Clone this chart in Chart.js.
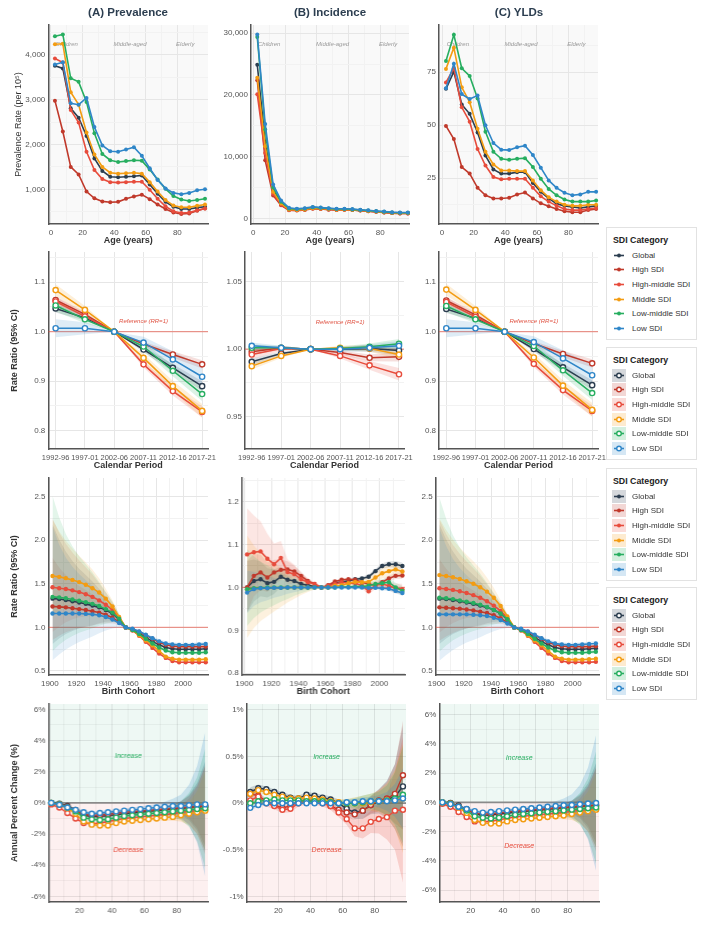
<!DOCTYPE html>
<html>
<head>
<meta charset="utf-8">
<title>SDI age-period-cohort panels</title>
<script src="https://cdn.jsdelivr.net/npm/chart.js@4.4.1/dist/chart.umd.min.js"></script>
<style>
  body { margin: 0; background: #fff; font-family: "Liberation Sans", Arial, sans-serif; }
  #page { position: relative; width: 708px; height: 934px; overflow: hidden; }
  #page canvas { position: absolute; }
  .panel-title { position: absolute; top: 6px; width: 200px; margin-left: -100px; text-align: center;
                 font-size: 11.5px; font-weight: bold; color: #2c3e50; }
  .legend { position: absolute; left: 606px; width: 91px; height: 113px; border: 1px solid #e2e2e2;
            background: #fff; box-sizing: border-box; }
  .legend .lt { font-weight: bold; font-size: 8.8px; color: #222; margin: 7px 0 3px 6px; line-height: 10px; }
  .legend .it { height: 14.6px; font-size: 8px; display: flex; align-items: center; }
  .legend .it span { color: #333; -webkit-font-smoothing: antialiased; }
  .legend svg { margin: 0 4px 0 3px; flex: none; }
</style>
</head>
<body>
<div id="page"></div>
<script>
// ---- categories ----
const sdiNames = ['Global', 'High SDI', 'High-middle SDI', 'Middle SDI', 'Low-middle SDI', 'Low SDI'];
const sdiColors = ['#2c3e50', '#c0392b', '#e74c3c', '#f39c12', '#27ae60', '#2f86c8'];
const ageGroups = [2.5, 7.5, 12.5, 17.5, 22.5, 27.5, 32.5, 37.5, 42.5, 47.5, 52.5, 57.5, 62.5, 67.5, 72.5, 77.5, 82.5, 87.5, 92.5, 97.5];
const periodLabels = ['1992-96', '1997-01', '2002-06', '2007-11', '2012-16', '2017-21'];
const periodIndex = [0, 1, 2, 3, 4, 5];
const cohortYears = [1902, 1907, 1912, 1917, 1922, 1927, 1932, 1937, 1942, 1947, 1952, 1957,
                     1962, 1967, 1972, 1977, 1982, 1987, 1992, 1997, 2002, 2007, 2012, 2017];

// ---- row 1: age-specific rates (rows follow sdiNames) ----
const prevalenceRate = [
  [3760, 3700, 2810, 2600, 2190, 1690, 1410, 1280, 1270, 1280, 1290, 1310, 1110, 900, 720, 610, 560, 560, 590, 610],
  [2980, 2290, 1500, 1330, 950, 800, 730, 710, 720, 790, 840, 880, 780, 660, 560, 480, 450, 460, 520, 570],
  [3920, 3830, 2770, 2490, 1840, 1430, 1230, 1160, 1150, 1160, 1170, 1170, 990, 790, 620, 510, 470, 480, 530, 570],
  [4240, 4250, 3170, 2890, 2270, 1780, 1500, 1370, 1350, 1360, 1370, 1350, 1160, 950, 760, 640, 600, 600, 630, 660],
  [4420, 4460, 3480, 3400, 2950, 2250, 1790, 1650, 1610, 1630, 1650, 1640, 1440, 1220, 1010, 850, 770, 740, 760, 790],
  [3790, 3840, 2920, 2890, 3040, 2390, 1980, 1850, 1840, 1890, 1940, 1750, 1470, 1210, 1020, 920, 890, 920, 980, 1000]
];
const incidenceRate = [
  [24900, 12400, 4600, 2500, 1500, 1400, 1500, 1700, 1600, 1500, 1400, 1450, 1400, 1300, 1200, 1100, 1000, 900, 850, 850],
  [22400, 9400, 3700, 2100, 1300, 1250, 1350, 1550, 1500, 1400, 1350, 1400, 1350, 1250, 1150, 1050, 950, 850, 800, 800],
  [20100, 10600, 4000, 2200, 1350, 1300, 1400, 1600, 1550, 1450, 1350, 1400, 1350, 1250, 1150, 1050, 950, 850, 800, 800],
  [22800, 11700, 4300, 2400, 1450, 1350, 1450, 1650, 1600, 1500, 1400, 1450, 1400, 1300, 1200, 1100, 1000, 900, 850, 850],
  [29400, 14400, 5000, 2700, 1600, 1500, 1600, 1800, 1700, 1600, 1500, 1500, 1450, 1350, 1250, 1150, 1050, 950, 900, 900],
  [29800, 15300, 5500, 2900, 1700, 1550, 1650, 1850, 1750, 1650, 1550, 1550, 1500, 1400, 1300, 1200, 1100, 1000, 950, 950]
];
const yldRate = [
  [67.2, 75.3, 59.8, 55.4, 46.6, 35.7, 29.2, 27.2, 27.2, 27.9, 27.9, 22.8, 18.6, 15.5, 13, 12, 11.5, 11, 11.5, 12],
  [49.7, 43.5, 30.3, 27.2, 20.5, 17, 15.5, 15.5, 15.8, 17.4, 18.3, 15.5, 13.2, 11.8, 10.5, 9.5, 9, 9, 10, 10.5],
  [70.2, 76.9, 58.5, 51.7, 38.8, 31, 25.6, 24.5, 24.8, 24.8, 24.8, 20.5, 16.5, 14, 12, 10.5, 10, 10, 10.5, 11],
  [76.6, 86.6, 67.9, 60.9, 48.4, 37.5, 31.5, 28.7, 28.7, 28.4, 28.4, 24, 19.4, 16, 14, 12.5, 12, 12, 12.5, 12.5],
  [80.3, 92.7, 76.9, 73.3, 62.6, 46.9, 37.5, 34.2, 33.7, 34.2, 34.5, 30.3, 24.8, 20, 17, 15, 14, 14, 14, 14.5],
  [67.5, 79, 64.7, 62.4, 64, 50, 41.6, 38.5, 38.3, 39.6, 40.4, 36, 30, 24, 20.5, 18.2, 17, 17.4, 18.6, 18.6]
];

// ---- row 2: period rate ratios ----
const prevalencePeriodRR = [
  [1.047, 1.028, 1, 0.964, 0.927, 0.890],
  [1.064, 1.035, 1, 0.975, 0.954, 0.934],
  [1.061, 1.031, 1, 0.934, 0.880, 0.838],
  [1.084, 1.044, 1, 0.947, 0.890, 0.840],
  [1.053, 1.025, 1, 0.970, 0.921, 0.874],
  [1.007, 1.007, 1, 0.978, 0.944, 0.909]
];
const incidencePeriodRR = [
  [0.9906, 0.9968, 1, 1.0000, 1.0005, 0.9990],
  [0.9980, 1.0010, 1, 0.9975, 0.9936, 0.9943],
  [0.9960, 1.0005, 1, 0.9950, 0.9880, 0.9814],
  [0.9874, 0.9950, 1, 1.0010, 1.0005, 0.9960],
  [1.0010, 1.0010, 1, 1.0005, 1.0017, 1.0040],
  [1.0025, 1.0010, 1, 1.0000, 1.0010, 1.0025]
];
const yldPeriodRR = [
  [1.046, 1.027, 1, 0.965, 0.928, 0.892],
  [1.063, 1.034, 1, 0.976, 0.955, 0.936],
  [1.060, 1.030, 1, 0.935, 0.882, 0.840],
  [1.085, 1.044, 1, 0.948, 0.891, 0.842],
  [1.052, 1.025, 1, 0.971, 0.922, 0.876],
  [1.007, 1.007, 1, 0.979, 0.946, 0.912]
];
const periodCiWidth = [0.012, 0.008, 0, 0.008, 0.011, 0.014];
const periodCiWidthB = [0.0025, 0.0015, 0, 0.0015, 0.0025, 0.0035];
const periodCiScale = [0.7, 0.6, 0.8, 1, 1, 1.5];
const periodCiScaleB = [1, 1, 1.3, 1, 1, 1];

// ---- row 3: cohort rate ratios ----
const prevalenceCohortRR = [
  [1.33, 1.325, 1.315, 1.30, 1.285, 1.27, 1.25, 1.23, 1.20, 1.16, 1.09, 1, 0.975, 0.935, 0.885, 0.84, 0.80, 0.77, 0.755, 0.75, 0.75, 0.75, 0.75, 0.755],
  [1.24, 1.235, 1.23, 1.22, 1.21, 1.20, 1.185, 1.17, 1.145, 1.11, 1.06, 1, 0.98, 0.95, 0.91, 0.87, 0.83, 0.80, 0.785, 0.78, 0.78, 0.78, 0.78, 0.78],
  [1.46, 1.45, 1.44, 1.425, 1.405, 1.38, 1.35, 1.31, 1.26, 1.20, 1.11, 1, 0.965, 0.905, 0.835, 0.765, 0.70, 0.65, 0.615, 0.60, 0.60, 0.60, 0.60, 0.60],
  [1.59, 1.58, 1.565, 1.545, 1.52, 1.49, 1.45, 1.40, 1.33, 1.24, 1.12, 1, 0.97, 0.91, 0.85, 0.795, 0.73, 0.665, 0.64, 0.63, 0.63, 0.63, 0.63, 0.635],
  [1.35, 1.345, 1.335, 1.32, 1.305, 1.29, 1.27, 1.245, 1.21, 1.17, 1.10, 1, 0.97, 0.925, 0.87, 0.815, 0.77, 0.735, 0.715, 0.71, 0.71, 0.71, 0.71, 0.715],
  [1.16, 1.16, 1.16, 1.16, 1.16, 1.155, 1.15, 1.14, 1.12, 1.09, 1.05, 1, 0.985, 0.955, 0.915, 0.875, 0.84, 0.815, 0.805, 0.80, 0.80, 0.80, 0.805, 0.81]
];
const incidenceCohortRR = [
  [1.000, 1.015, 1.019, 1.010, 1.013, 1.025, 1.018, 1.015, 1.008, 1.005, 1.002, 1, 1.004, 1.010, 1.013, 1.015, 1.019, 1.021, 1.025, 1.038, 1.050, 1.054, 1.054, 1.050],
  [1.000, 1.027, 1.035, 1.023, 1.035, 1.041, 1.042, 1.037, 1.027, 1.015, 1.008, 1, 1.005, 1.014, 1.018, 1.019, 1.018, 1.012, 1.008, 1.005, 1.012, 1.021, 1.027, 1.028],
  [1.077, 1.082, 1.084, 1.067, 1.054, 1.069, 1.036, 1.031, 1.019, 1.012, 1.008, 1, 1.004, 1.008, 1.012, 1.010, 1.010, 1.004, 0.991, 1.005, 1.008, 1.004, 0.998, 0.996],
  [0.995, 0.997, 0.998, 0.998, 0.999, 0.999, 1.000, 1.000, 1.000, 1.000, 1.000, 1, 1.000, 1.004, 1.005, 1.010, 1.013, 1.012, 1.013, 1.023, 1.033, 1.038, 1.042, 1.037],
  [0.996, 0.998, 0.999, 1.000, 1.000, 1.000, 1.000, 1.000, 1.000, 1.000, 1.000, 1, 1.000, 1.000, 1.001, 1.001, 1.002, 1.002, 1.004, 1.008, 1.010, 1.012, 1.000, 0.992],
  [0.988, 0.996, 0.998, 0.998, 0.999, 0.999, 1.000, 1.000, 1.000, 1.000, 1.000, 1, 1.000, 1.000, 1.000, 1.000, 1.000, 1.000, 0.999, 0.999, 0.998, 0.997, 0.992, 0.987]
];
const yldCohortRR = [
  [1.33, 1.325, 1.315, 1.30, 1.285, 1.27, 1.25, 1.23, 1.20, 1.16, 1.09, 1, 0.975, 0.935, 0.885, 0.84, 0.80, 0.77, 0.755, 0.75, 0.75, 0.75, 0.755, 0.76],
  [1.23, 1.225, 1.22, 1.215, 1.205, 1.195, 1.18, 1.165, 1.14, 1.105, 1.055, 1, 0.98, 0.95, 0.91, 0.87, 0.83, 0.80, 0.785, 0.78, 0.78, 0.78, 0.78, 0.785],
  [1.45, 1.44, 1.43, 1.415, 1.395, 1.37, 1.34, 1.30, 1.25, 1.19, 1.105, 1, 0.965, 0.905, 0.835, 0.765, 0.70, 0.65, 0.615, 0.60, 0.60, 0.60, 0.60, 0.605],
  [1.60, 1.59, 1.575, 1.555, 1.53, 1.50, 1.46, 1.41, 1.34, 1.245, 1.125, 1, 0.97, 0.91, 0.85, 0.795, 0.73, 0.665, 0.64, 0.63, 0.63, 0.63, 0.635, 0.64],
  [1.34, 1.335, 1.325, 1.31, 1.295, 1.28, 1.26, 1.235, 1.20, 1.16, 1.095, 1, 0.97, 0.925, 0.87, 0.815, 0.77, 0.735, 0.715, 0.71, 0.71, 0.71, 0.715, 0.72],
  [1.15, 1.15, 1.15, 1.15, 1.15, 1.145, 1.14, 1.13, 1.11, 1.085, 1.045, 1, 0.985, 0.955, 0.915, 0.875, 0.84, 0.815, 0.805, 0.80, 0.80, 0.805, 0.81, 0.815]
];
const cohortCiWidth = [0.62, 0.52, 0.44, 0.38, 0.33, 0.29, 0.25, 0.20, 0.15, 0.10, 0.05, 0, 0.01, 0.015, 0.02, 0.025, 0.03, 0.03, 0.03, 0.03, 0.03, 0.03, 0.03, 0.035];
const cohortCiScale = [0.8, 0.6, 0.7, 0.55, 1.0, 1.0];
const cohortCiWidthB = [0.1, 0.08, 0.066, 0.056, 0.047, 0.038, 0.03, 0.022, 0.015, 0.009, 0.004, 0, 0.003, 0.004, 0.005, 0.006, 0.006, 0.007, 0.008, 0.009, 0.010, 0.011, 0.012, 0.013];
const cohortCiScaleB = [0.6, 0.6, 0.95, 1.2, 0.9, 0.5];

// ---- row 4: local drifts, annual percent change (%) ----
const prevalenceDrift = [
  [0.0, -0.05, -0.2, -0.45, -0.8, -0.88, -0.88, -0.82, -0.76, -0.7, -0.65, -0.6, -0.55, -0.5, -0.45, -0.4, -0.35, -0.3, -0.25, -0.22],
  [-0.02, -0.08, -0.25, -0.5, -0.75, -0.8, -0.78, -0.72, -0.66, -0.6, -0.56, -0.52, -0.48, -0.44, -0.4, -0.36, -0.32, -0.28, -0.25, -0.22],
  [-0.1, -0.3, -0.65, -1.0, -1.3, -1.35, -1.3, -1.2, -1.1, -1.0, -0.95, -0.9, -0.85, -0.8, -0.75, -0.7, -0.6, -0.55, -0.5, -0.45],
  [0.0, -0.1, -0.35, -0.7, -1.2, -1.4, -1.45, -1.45, -1.3, -1.2, -1.15, -1.1, -1.05, -1.0, -0.95, -0.9, -0.8, -0.7, -0.6, -0.5],
  [0.0, -0.1, -0.3, -0.55, -0.95, -1.05, -1.1, -1.05, -0.95, -0.85, -0.8, -0.75, -0.7, -0.65, -0.6, -0.55, -0.5, -0.45, -0.4, -0.35],
  [0.0, -0.12, -0.3, -0.45, -0.6, -0.7, -0.65, -0.6, -0.55, -0.5, -0.45, -0.4, -0.35, -0.3, -0.25, -0.2, -0.2, -0.15, -0.1, -0.1]
];
const incidenceDrift = [
  [0.12, 0.16, 0.15, 0.12, 0.09, 0.06, 0.05, 0.09, 0.08, 0.06, 0.04, 0.0, -0.06, -0.1, -0.08, -0.02, 0.02, 0.04, 0.07, 0.18],
  [0.10, 0.08, 0.02, -0.02, -0.05, -0.03, 0.02, 0.03, 0.03, 0.02, -0.03, -0.07, -0.1, -0.12, -0.08, -0.02, 0.03, 0.05, 0.1, 0.3],
  [0.03, 0.07, 0.0, -0.03, -0.07, -0.06, 0.0, 0.02, 0.02, 0.0, -0.03, -0.1, -0.17, -0.27, -0.27, -0.2, -0.17, -0.15, -0.08, -0.07],
  [0.10, 0.14, 0.12, 0.09, 0.07, 0.05, 0.05, 0.06, 0.05, 0.04, 0.02, 0.01, 0.0, 0.0, 0.0, 0.01, 0.02, 0.03, 0.04, 0.05],
  [0.0, 0.02, 0.03, 0.04, 0.03, 0.03, 0.03, 0.02, 0.02, 0.02, 0.01, 0.0, 0.0, 0.0, 0.01, 0.02, 0.02, 0.03, 0.05, 0.09],
  [-0.05, -0.02, 0.0, 0.0, 0.0, 0.0, 0.0, 0.0, 0.0, 0.0, 0.0, 0.0, 0.01, 0.01, 0.02, 0.02, 0.02, 0.02, 0.03, 0.05]
];
const yldDrift = [
  [0.0, -0.05, -0.22, -0.47, -0.8, -0.88, -0.87, -0.8, -0.74, -0.68, -0.63, -0.58, -0.53, -0.48, -0.43, -0.38, -0.33, -0.28, -0.23, -0.2],
  [-0.02, -0.08, -0.26, -0.5, -0.74, -0.79, -0.77, -0.71, -0.65, -0.6, -0.55, -0.51, -0.47, -0.43, -0.39, -0.35, -0.31, -0.27, -0.24, -0.21],
  [-0.1, -0.3, -0.66, -1.0, -1.3, -1.34, -1.29, -1.19, -1.09, -0.99, -0.94, -0.89, -0.84, -0.79, -0.74, -0.69, -0.6, -0.55, -0.5, -0.45],
  [0.0, -0.1, -0.36, -0.72, -1.2, -1.4, -1.45, -1.44, -1.3, -1.2, -1.15, -1.1, -1.05, -1.0, -0.95, -0.9, -0.8, -0.7, -0.6, -0.5],
  [0.0, -0.1, -0.3, -0.56, -0.95, -1.05, -1.1, -1.05, -0.95, -0.85, -0.8, -0.75, -0.7, -0.65, -0.6, -0.55, -0.5, -0.45, -0.4, -0.35],
  [0.0, -0.12, -0.3, -0.45, -0.6, -0.7, -0.66, -0.6, -0.55, -0.5, -0.45, -0.4, -0.35, -0.3, -0.25, -0.2, -0.18, -0.13, -0.08, -0.05]
];
const driftCiWidth = [0.12, 0.1, 0.09, 0.09, 0.09, 0.09, 0.09, 0.09, 0.09, 0.1, 0.1, 0.11, 0.13, 0.16, 0.22, 0.32, 0.5, 0.9, 1.7, 3.2];
const driftCiScale = [0.9, 0.8, 0.9, 0.8, 1.2, 1.45];
const driftCiWidthB = [0.05, 0.04, 0.03, 0.03, 0.03, 0.03, 0.03, 0.03, 0.03, 0.03, 0.035, 0.04, 0.05, 0.07, 0.09, 0.1, 0.13, 0.2, 0.35, 0.65];
const driftCiScaleB = [1.0, 0.9, 1.2, 0.9, 0.8, 0.5];

// ---- tick labels ----
const ageTicks = [0, 20, 40, 60, 80];
const driftAgeTicks = [20, 40, 60, 80];
const cohortTicks = [1900, 1920, 1940, 1960, 1980, 2000];
const prevalenceTicks = [1000, 2000, 3000, 4000];
const incidenceTicks = [0, 10000, 20000, 30000];
const yldTicks = [25, 50, 75];
const periodRRTicks = [0.8, 0.9, 1.0, 1.1];
const periodRRTicksB = [0.95, 1.00, 1.05];
const cohortRRTicks = [0.5, 1.0, 1.5, 2.0, 2.5];
const cohortRRTicksB = [0.8, 0.9, 1.0, 1.1, 1.2];
const driftTicks = [-6, -4, -2, 0, 2, 4, 6];
const driftTicksB = [-1, -0.5, 0, 0.5, 1];

Chart.defaults.font.family = '"Liberation Sans", Arial, sans-serif';
Chart.defaults.color = '#555';
Chart.defaults.animation = false;

const page = document.getElementById('page');

function rgba(hex, a) {
  const n = parseInt(hex.slice(1), 16);
  return `rgba(${n >> 16},${(n >> 8) & 255},${n & 255},${a})`;
}

// majors plus half-step minors inside [min, max]
function tickList(majors, min, max, withMinor) {
  if (!withMinor) return majors.filter(v => v >= min && v <= max);
  const step = majors[1] - majors[0];
  const out = [];
  for (let k = -1; k <= majors.length * 2 - 1; k++) {
    const v = +(majors[0] + k * step / 2).toFixed(6);
    if (v >= min - 1e-9 && v <= max + 1e-9) out.push(v);
  }
  return out;
}

const decor = {
  id: 'decor',
  beforeDraw(chart, args, o) {
    const { ctx, chartArea: a, scales } = chart;
    ctx.save();
    if (o.split) {
      const y0 = scales.y.getPixelForValue(0);
      ctx.fillStyle = '#eef8f4';
      ctx.fillRect(a.left, a.top, a.right - a.left, y0 - a.top);
      ctx.fillStyle = '#fdf0f0';
      ctx.fillRect(a.left, y0, a.right - a.left, a.bottom - y0);
    } else if (o.bg) {
      ctx.fillStyle = o.bg;
      ctx.fillRect(a.left, a.top, a.right - a.left, a.bottom - a.top);
    }
    ctx.restore();
  },
  beforeDatasetsDraw(chart, args, o) {
    const { ctx, chartArea: a, scales } = chart;
    ctx.save();
    if (o.refLine !== undefined) {
      const y = scales.y.getPixelForValue(o.refLine);
      ctx.strokeStyle = o.refColor;
      ctx.lineWidth = o.refWidth;
      ctx.beginPath(); ctx.moveTo(a.left, y); ctx.lineTo(a.right, y); ctx.stroke();
    }
    (o.notes || []).forEach(n => {
      const x = scales.x.getPixelForValue(n.x);
      const y = n.dy !== undefined ? a.top + n.dy : scales.y.getPixelForValue(n.y);
      ctx.font = `italic ${n.size}px "Liberation Sans", Arial, sans-serif`;
      ctx.fillStyle = n.color;
      ctx.textAlign = 'center';
      ctx.textBaseline = 'middle';
      ctx.fillText(n.text, x, y);
    });
    ctx.restore();
  }
};

const colLeft = [0, 212, 408];
const rowBox = [{ t: 25, b: 224 }, { t: 252, b: 449 }, { t: 478, b: 675 }, { t: 704, b: 902 }];

function addPanel(p) {
  const t = rowBox[p.row].t, b = rowBox[p.row].b;
  const cl = colLeft[p.col], ct = t - 12, cr = p.r + 18, cb = b + (p.xTitle ? 22 : 14);
  const canvas = document.createElement('canvas');
  canvas.width = cr - cl; canvas.height = cb - ct;
  canvas.style.left = cl + 'px'; canvas.style.top = ct + 'px';
  canvas.style.width = (cr - cl) + 'px'; canvas.style.height = (cb - ct) + 'px';
  page.appendChild(canvas);

  const st = p.style;
  const lines = [], bands = [];
  p.series.forEach((vals, i) => {
    const c = sdiColors[i];
    lines.push({
      data: vals.map((v, k) => ({ x: p.x[k], y: v })),
      borderColor: c, borderWidth: st.lw, tension: 0,
      pointRadius: st.r, pointBorderWidth: st.open ? 1.4 : 0,
      pointBackgroundColor: st.open ? '#fff' : c, pointBorderColor: c,
      order: 10 + (5 - i), clip: 6
    });
    if (p.ci) {
      const hi = [], lo = [];
      vals.forEach((v, k) => {
        const w = p.ci[k] * p.ciScale[i];
        hi.push({ x: p.x[k], y: p.logCi ? v * Math.exp(w) : v + w });
        lo.push({ x: p.x[k], y: p.logCi ? v / Math.exp(w) : v - w });
      });
      bands.push({ data: hi, borderColor: 'rgba(0,0,0,0)', borderWidth: 0, pointRadius: 0,
                   fill: '+1', backgroundColor: rgba(c, p.bandAlpha || 0.16), order: 30 + (5 - i) });
      bands.push({ data: lo, borderColor: 'rgba(0,0,0,0)', borderWidth: 0, pointRadius: 0,
                   fill: false, order: 30 + (5 - i) });
    }
  });

  const xMaj = p.xTicks, yMaj = p.yTicks;
  const near = (arr, v) => arr.some(m => Math.abs(m - v) < 1e-6 * Math.max(1, Math.abs(m)));
  const yTickVals = tickList(yMaj, p.yMin, p.yMax, true);
  const xTickVals = tickList(xMaj, p.xMin, p.xMax, p.xMinor !== false);
  const gridMajor = p.split ? 'rgba(0,0,0,0.09)' : '#e6e6e6';
  const gridMinor = p.split ? 'rgba(0,0,0,0.045)' : '#f2f2f2';

  new Chart(canvas, {
    type: 'line',
    data: { datasets: lines.concat(bands) },
    options: {
      responsive: false,
      layout: { padding: { top: t - ct, right: cr - p.r, left: 0, bottom: 0 } },
      plugins: {
        legend: { display: false }, tooltip: { enabled: false },
        decor: { bg: p.bg, split: p.split, refLine: p.refLine, refColor: p.refColor, refWidth: p.refWidth, notes: p.notes }
      },
      scales: {
        x: {
          type: 'linear', min: p.xMin, max: p.xMax,
          afterBuildTicks: ax => { ax.ticks = xTickVals.map(v => ({ value: v })); },
          afterFit: ax => { ax.height = p.xTitle ? 22 : 14; },
          ticks: { autoSkip: false, maxRotation: 0, minRotation: 0, padding: 4,
                   font: { size: p.xFont || 8 }, color: '#555',
                   callback: v => near(xMaj, v) ? p.xFmt(v) : '' },
          grid: { drawTicks: false, lineWidth: 1, color: ctx => near(xMaj, ctx.tick.value) ? gridMajor : gridMinor },
          border: { display: true, color: '#555', width: 1.5 },
          title: { display: !!p.xTitle, text: p.xTitle, color: '#333', font: { size: 9, weight: 'bold' }, padding: { top: 0, bottom: 0 } }
        },
        y: {
          type: 'linear', min: p.yMin, max: p.yMax,
          afterBuildTicks: ax => { ax.ticks = yTickVals.map(v => ({ value: v })); },
          afterFit: ax => { ax.width = p.l - cl; },
          ticks: { autoSkip: false, padding: 3, font: { size: 8 }, color: '#555',
                   callback: v => near(yMaj, v) ? p.yFmt(v) : '' },
          grid: { drawTicks: false, lineWidth: 1, color: ctx => near(yMaj, ctx.tick.value) ? gridMajor : gridMinor },
          border: { display: true, color: '#555', width: 1.5 },
          title: { display: !!p.yTitle, text: p.yTitle, color: '#333',
                   font: { size: 9, weight: p.yTitleBold === false ? 'normal' : 'bold' },
                   padding: { top: p.yTitlePad || 9.6, bottom: 0 } }
        }
      }
    },
    plugins: [decor]
  });
}

const thousands = v => v.toLocaleString('en-US');
const plain = v => String(v);
const oneDec = v => v.toFixed(1);
const twoDec = v => v.toFixed(2);
const pct = v => v + '%';
const periodFmt = v => periodLabels[v];

const dotStyle = { lw: 1.6, r: 2, open: false };
const cohortDot = { lw: 1.6, r: 2.2, open: false };
const ringStyle = { lw: 1.5, r: 2.6, open: true };
const ringSmall = { lw: 1.4, r: 2.5, open: true };
const grey = '#9a9a9a';
const ageNotes = [
  { x: 10, dy: 19, text: 'Children', color: grey, size: 6 },
  { x: 50, dy: 19, text: 'Middle-aged', color: grey, size: 6 },
  { x: 85, dy: 19, text: 'Elderly', color: grey, size: 6 }
];
const refNote = [{ x: 3, y: 1.02, text: 'Reference (RR=1)', color: '#e05545', size: 6 }];
const driftNotes = (v) => [
  { x: 50, y: v, text: 'Increase', color: '#27ae60', size: 7 },
  { x: 50, y: -v, text: 'Decrease', color: '#e74c3c', size: 7 }
];
const refRed = 'rgba(231,76,60,0.55)';

// row 1
addPanel({ row: 0, col: 0, l: 48.3, r: 208, xMin: -1.7, xMax: 99.4, yMin: 225, yMax: 4670, x: ageGroups,
  xTicks: ageTicks, yTicks: prevalenceTicks, xFmt: plain, yFmt: thousands, series: prevalenceRate, style: dotStyle,
  xTitle: 'Age (years)', yTitle: 'Prevalence Rate (per 10⁵)', yTitleBold: false, yTitlePad: 12.9, bg: '#f9f9f9', notes: ageNotes });
addPanel({ row: 0, col: 1, l: 251, r: 409, xMin: -1.45, xMax: 98.2, yMin: -920, yMax: 31345, x: ageGroups,
  xTicks: ageTicks, yTicks: incidenceTicks, xFmt: plain, yFmt: thousands, series: incidenceRate, style: dotStyle,
  xTitle: 'Age (years)', bg: '#f9f9f9', notes: ageNotes });
addPanel({ row: 0, col: 2, l: 439, r: 598, xMin: -1.9, xMax: 98.7, yMin: 3.44, yMax: 97.3, x: ageGroups,
  xTicks: ageTicks, yTicks: yldTicks, xFmt: plain, yFmt: plain, series: yldRate, style: dotStyle,
  xTitle: 'Age (years)', bg: '#f9f9f9', notes: ageNotes });

// row 2
addPanel({ row: 1, col: 0, l: 48.3, r: 208, xMin: -0.25, xMax: 5.2, yMin: 0.763, yMax: 1.161, x: periodIndex,
  xTicks: periodIndex, xMinor: false, yTicks: periodRRTicks, xFmt: periodFmt, yFmt: oneDec, xFont: 7.5,
  series: prevalencePeriodRR, style: ringStyle, ci: periodCiWidth, ciScale: periodCiScale,
  xTitle: 'Calendar Period', yTitle: 'Rate Ratio (95% CI)', refLine: 1, refColor: refRed, refWidth: 1.3, notes: refNote });
addPanel({ row: 1, col: 1, l: 245, r: 404, xMin: -0.23, xMax: 5.17, yMin: 0.926, yMax: 1.072, x: periodIndex,
  xTicks: periodIndex, xMinor: false, yTicks: periodRRTicksB, xFmt: periodFmt, yFmt: twoDec, xFont: 7.5,
  series: incidencePeriodRR, style: ringStyle, ci: periodCiWidthB, ciScale: periodCiScaleB,
  xTitle: 'Calendar Period', refLine: 1, refColor: refRed, refWidth: 1.3, notes: refNote });
addPanel({ row: 1, col: 2, l: 439, r: 598, xMin: -0.25, xMax: 5.2, yMin: 0.763, yMax: 1.161, x: periodIndex,
  xTicks: periodIndex, xMinor: false, yTicks: periodRRTicks, xFmt: periodFmt, yFmt: oneDec, xFont: 7.5,
  series: yldPeriodRR, style: ringStyle, ci: periodCiWidth, ciScale: periodCiScale,
  xTitle: 'Calendar Period', refLine: 1, refColor: refRed, refWidth: 1.3, notes: refNote });

// row 3
addPanel({ row: 2, col: 0, l: 48.5, r: 208, xMin: 1899, xMax: 2018.7, yMin: 0.454, yMax: 2.714, x: cohortYears,
  xTicks: cohortTicks, yTicks: cohortRRTicks, xFmt: plain, yFmt: oneDec, series: prevalenceCohortRR, style: cohortDot,
  ci: cohortCiWidth, ciScale: cohortCiScale, logCi: true, bandAlpha: 0.13,
  xTitle: 'Birth Cohort', yTitle: 'Rate Ratio (95% CI)', refLine: 1, refColor: refRed, refWidth: 1.3 });
addPanel({ row: 2, col: 1, l: 241.7, r: 404.5, xMin: 1898.1, xMax: 2018.9, yMin: 0.796, yMax: 1.255, x: cohortYears,
  xTicks: cohortTicks, yTicks: cohortRRTicksB, xFmt: plain, yFmt: oneDec, series: incidenceCohortRR, style: cohortDot,
  ci: cohortCiWidthB, ciScale: cohortCiScaleB, logCi: true, bandAlpha: 0.14,
  xTitle: 'Birth Cohort', refLine: 1, refColor: refRed, refWidth: 1.3 });
addPanel({ row: 2, col: 2, l: 435.7, r: 599, xMin: 1899.3, xMax: 2019.3, yMin: 0.454, yMax: 2.714, x: cohortYears,
  xTicks: cohortTicks, yTicks: cohortRRTicks, xFmt: plain, yFmt: oneDec, series: yldCohortRR, style: cohortDot,
  ci: cohortCiWidth, ciScale: cohortCiScale, logCi: true, bandAlpha: 0.13,
  xTitle: 'Birth Cohort', refLine: 1, refColor: refRed, refWidth: 1.3 });

// row 4
addPanel({ row: 3, col: 0, l: 48.3, r: 207.5, xMin: 0.8, xMax: 99.2, yMin: -6.36, yMax: 6.34, x: ageGroups,
  xTicks: driftAgeTicks, yTicks: driftTicks, xFmt: plain, yFmt: pct, series: prevalenceDrift, style: ringSmall,
  ci: driftCiWidth, ciScale: driftCiScale, bandAlpha: 0.2, yTitle: 'Annual Percent Change (%)', split: true,
  refLine: 0, refColor: '#8a8a8a', refWidth: 1.8, notes: driftNotes(3) });
addPanel({ row: 3, col: 1, l: 246.7, r: 406, xMin: 0.3, xMax: 99.4, yMin: -1.06, yMax: 1.064, x: ageGroups,
  xTicks: driftAgeTicks, yTicks: driftTicksB, xFmt: plain, yFmt: pct, series: incidenceDrift, style: ringSmall,
  ci: driftCiWidthB, ciScale: driftCiScaleB, bandAlpha: 0.2, split: true,
  refLine: 0, refColor: '#8a8a8a', refWidth: 1.8, notes: driftNotes(0.5) });
addPanel({ row: 3, col: 2, l: 439.3, r: 599, xMin: 0.6, xMax: 99.3, yMin: -6.8, yMax: 6.71, x: ageGroups,
  xTicks: driftAgeTicks, yTicks: driftTicks, xFmt: plain, yFmt: pct, series: yldDrift, style: ringSmall,
  ci: driftCiWidth, ciScale: driftCiScale, bandAlpha: 0.2, split: true,
  refLine: 0, refColor: '#8a8a8a', refWidth: 1.8, notes: driftNotes(3) });

// panel titles
[['(A) Prevalence', 128], ['(B) Incidence', 330], ['(C) YLDs', 519]].forEach(([txt, cx]) => {
  const d = document.createElement('div');
  d.className = 'panel-title'; d.style.left = cx + 'px'; d.textContent = txt;
  page.appendChild(d);
});

// legends, one per row
const legendTops = [227, 347, 468, 587];
const legendKinds = [{ open: false, tint: false }, { open: true, tint: true }, { open: false, tint: true }, { open: true, tint: true }];
legendTops.forEach((top, li) => {
  const kind = legendKinds[li];
  const box = document.createElement('div');
  box.className = 'legend'; box.style.top = top + 'px';
  let html = '<div class="lt">SDI Category</div>';
  sdiNames.forEach((name, i) => {
    const c = sdiColors[i];
    const rect = kind.tint ? `<rect x="2" y="0" width="14" height="13" fill="${rgba(c, 0.2)}"/>` : '';
    const dot = kind.open
      ? `<circle cx="9" cy="6.5" r="2.3" fill="#fff" stroke="${c}" stroke-width="1.4"/>`
      : `<circle cx="9" cy="6.5" r="1.9" fill="${c}"/>`;
    html += `<div class="it"><svg width="18" height="13">${rect}<line x1="4" y1="6.5" x2="14" y2="6.5" stroke="${c}" stroke-width="1.6"/>${dot}</svg><span>${name}</span></div>`;
  });
  box.innerHTML = html;
  page.appendChild(box);
});
</script>
</body>
</html>
